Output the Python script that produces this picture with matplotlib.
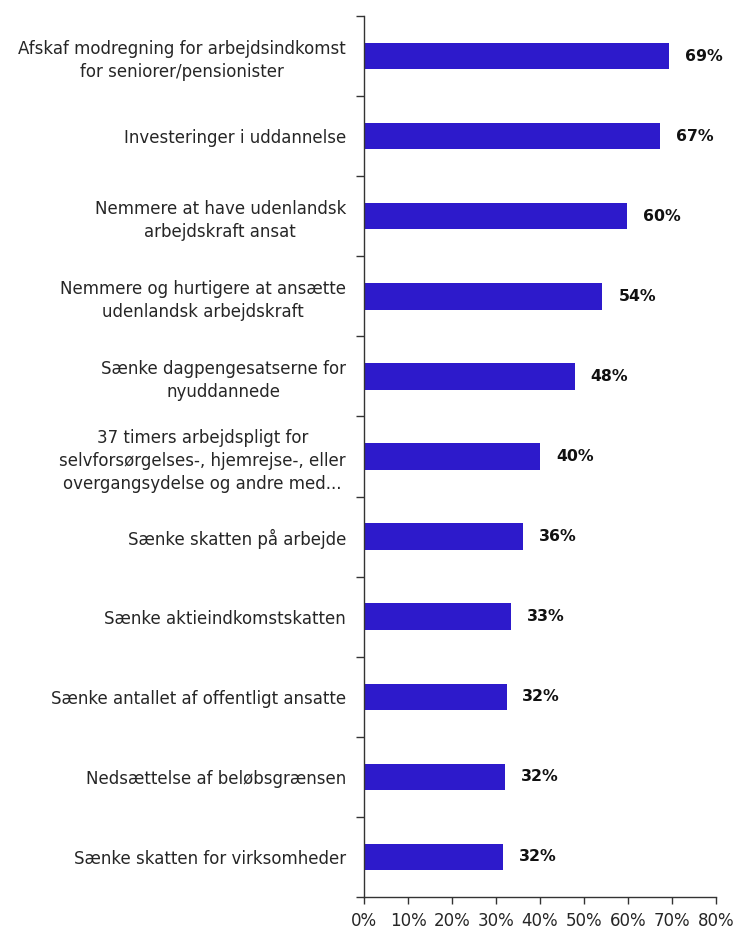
import matplotlib
matplotlib.use("Agg")
import matplotlib.pyplot as plt
from matplotlib.ticker import FixedLocator, PercentFormatter

categories = [
    "Afskaf modregning for arbejdsindkomst\nfor seniorer/pensionister",
    "Investeringer i uddannelse",
    "Nemmere at have udenlandsk\narbejdskraft ansat",
    "Nemmere og hurtigere at ansætte\nudenlandsk arbejdskraft",
    "Sænke dagpengesatserne for\nnyuddannede",
    "37 timers arbejdspligt for\nselvforsørgelses-, hjemrejse-, eller\novergangsydelse og andre med...",
    "Sænke skatten på arbejde",
    "Sænke aktieindkomstskatten",
    "Sænke antallet af offentligt ansatte",
    "Nedsættelse af beløbsgrænsen",
    "Sænke skatten for virksomheder",
]
values = [69.3, 67.2, 59.8, 54.2, 47.9, 40.1, 36.1, 33.5, 32.4, 32.0, 31.7]
value_labels = ["69%", "67%", "60%", "54%", "48%", "40%", "36%", "33%", "32%", "32%", "32%"]
xticks = [0, 10, 20, 30, 40, 50, 60, 70, 80]

bar_color = "#2D1ACB"
plt.rcParams["font.family"] = ["DejaVu Sans"]

fig = plt.figure(figsize=(7.37, 9.30), dpi=100)
ax = fig.add_axes([0.4939, 0.0355, 0.9715 - 0.4939, 0.9828 - 0.0355])

ypos = list(range(len(categories)))
ax.barh(ypos, values, height=0.33, color=bar_color)

for y, v, lab in zip(ypos, values, value_labels):
    ax.text(v + 3.6, y, lab, va="center", ha="left", fontsize=11.3,
            fontweight="bold", color="#111111")

ax.set_xlim(0, 80)
ax.set_ylim(len(categories) - 0.5, -0.5)

ax.set_yticks(ypos)
ax.set_yticklabels(categories, fontsize=12, color="#262626", ha="right",
                   multialignment="center", linespacing=1.36)
ax.tick_params(axis="y", which="major", length=0, pad=13)
ax.yaxis.set_minor_locator(FixedLocator([i - 0.5 for i in range(len(categories) + 1)]))
ax.tick_params(axis="y", which="minor", length=6, width=1, color="#333333", direction="out")

ax.set_xticks(xticks)
ax.xaxis.set_major_formatter(PercentFormatter(decimals=0))
ax.tick_params(axis="x", length=5, width=1, color="#333333", labelsize=12,
               labelcolor="#262626", pad=6)

for side in ["top", "right"]:
    ax.spines[side].set_visible(False)
for side in ["left", "bottom"]:
    ax.spines[side].set_color("#333333")
    ax.spines[side].set_linewidth(1)

fig.savefig("out.png", dpi=100)
